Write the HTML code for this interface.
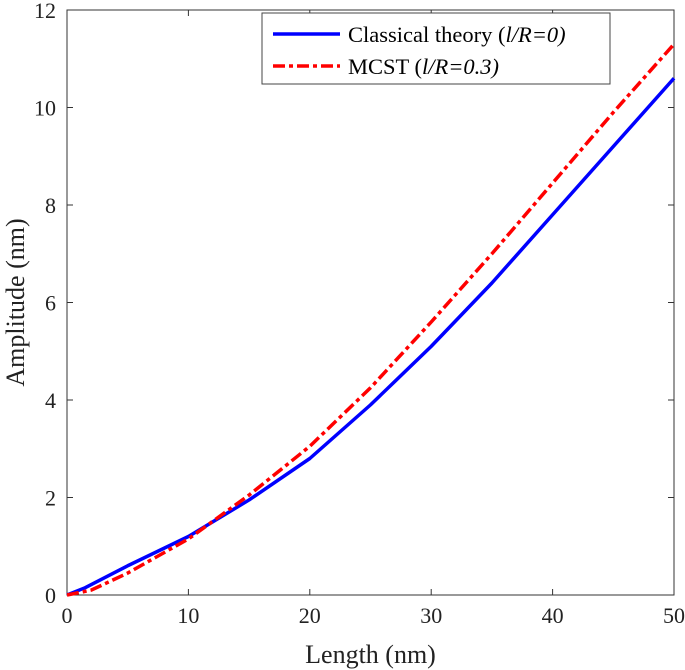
<!DOCTYPE html>
<html><head><meta charset="utf-8"><style>
body{margin:0;background:#fff}
svg{display:block;font-family:"Liberation Serif",serif}
</style></head><body>
<svg id="chart" width="685" height="670">
<g id="axes"></g>
<g id="series"></g>
<g>
<rect x="262" y="13" width="348" height="71" fill="#fff" stroke="#444" stroke-width="1"/>
<line x1="273" y1="34" x2="340" y2="34" stroke="#0000ff" stroke-width="3.5"/>
<text x="348" y="42" font-size="22.5">Classical theory (<tspan font-style="italic">l/R=0)</tspan></text>
<line x1="273" y1="66" x2="340" y2="66" stroke="#ff0000" stroke-width="3.5" stroke-dasharray="12,4,4,4"/>
<text x="348" y="74" font-size="22.5">MCST (<tspan font-style="italic">l/R=0.3)</tspan></text>
</g>
</svg>
<script>
const xVals=[0,1.5,5,10,15,20,25,30,35,40,45,50];
const classical=[0,0.15,0.6,1.2,1.95,2.8,3.9,5.1,6.4,7.8,9.2,10.6];
const mcstX=[0,2,5,10,15,20,25,30,35,40,45,50];
const mcst=[0,0.1,0.45,1.15,2.05,3.05,4.25,5.6,7.0,8.45,9.9,11.3];
const xTicks=[0,10,20,30,40,50];
const yTicks=[0,2,4,6,8,10,12];
const L=67,R=674,T=10,B=595;
const sx=v=>L+(v-0)/50*(R-L), sy=v=>B-(v/12)*(B-T);
const NS="http://www.w3.org/2000/svg";
const ax=document.getElementById('axes'), se=document.getElementById('series');
function mk(p,tag,attrs){const e=document.createElementNS(NS,tag);for(const k in attrs)e.setAttribute(k,attrs[k]);p.appendChild(e);return e;}
const frame=mk(ax,'rect',{x:L,y:T,width:R-L,height:B-T,fill:'none',stroke:'#333','stroke-width':1});


xTicks.forEach(t=>{const x=sx(t);
mk(ax,'line',{x1:x,y1:B,x2:x,y2:B-6,stroke:'#333'});mk(ax,'line',{x1:x,y1:T,x2:x,y2:T+6,stroke:'#333'});
const tx=mk(ax,'text',{x:x,y:B+28,'font-size':22,'text-anchor':'middle',fill:'#222'});tx.textContent=t;

});
yTicks.forEach(t=>{const y=sy(t);
mk(ax,'line',{x1:L,y1:y,x2:L+6,y2:y,stroke:'#333'});mk(ax,'line',{x1:R,y1:y,x2:R-6,y2:y,stroke:'#333'});
const tx=mk(ax,'text',{x:L-11,y:y+8,'font-size':22,'text-anchor':'end',fill:'#222'});tx.textContent=t;

});
const xl=mk(ax,'text',{x:(L+R)/2,y:663,'font-size':26,'text-anchor':'middle',fill:'#222'});xl.textContent='Length (nm)';


const yl=mk(ax,'text',{x:0,y:0,'font-size':26,'text-anchor':'middle',fill:'#222',transform:`translate(24,${(T+B)/2}) rotate(-90)`});yl.textContent='Amplitude (nm)';


const p1=mk(se,'polyline',{points:xVals.map((x,i)=>sx(x)+','+sy(classical[i])).join(' '),fill:'none',stroke:'#0000ff','stroke-width':3.5,'stroke-linejoin':'round'});


const p2=mk(se,'polyline',{points:mcstX.map((x,i)=>sx(x)+','+sy(mcst[i])).join(' '),fill:'none',stroke:'#ff0000','stroke-width':3.5,'stroke-dasharray':'12,4,4,4'});


</script>
</body></html>
